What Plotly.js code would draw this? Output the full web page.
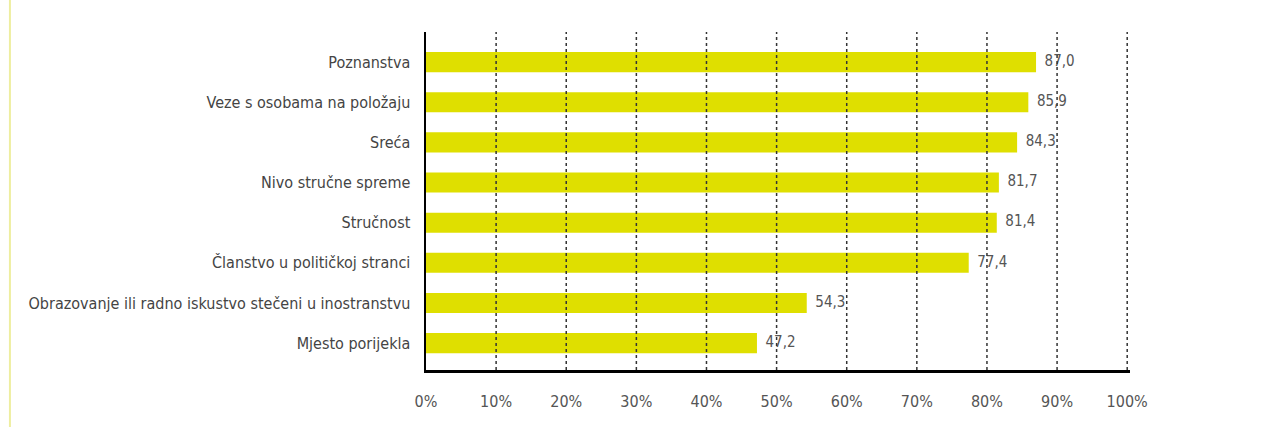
<!DOCTYPE html>
<html>
<head>
<meta charset="utf-8">
<script src="https://cdn.plot.ly/plotly-3.0.1.min.js"></script>
<style>html,body{margin:0;padding:0;background:#fff;}#chart{width:1265px;height:427px;}</style>
</head>
<body>
<div id="chart"></div>
<script>
const categories = [
  "Poznanstva",
  "Veze s osobama na položaju",
  "Sreća",
  "Nivo stručne spreme",
  "Stručnost",
  "Članstvo u političkoj stranci",
  "Obrazovanje ili radno iskustvo stečeni u inostranstvu",
  "Mjesto porijekla"
];
const values = [87.0, 85.9, 84.3, 81.7, 81.4, 77.4, 54.3, 47.2];
const valueLabels = ["87,0", "85,9", "84,3", "81,7", "81,4", "77,4", "54,3", "47,2"];
const tickValues = [0, 10, 20, 30, 40, 50, 60, 70, 80, 90, 100];
const tickLabels = ["0%", "10%", "20%", "30%", "40%", "50%", "60%", "70%", "80%", "90%", "100%"];

const font = "DejaVu Sans Condensed, Liberation Sans Narrow, sans-serif";

const bars = {
  type: "bar",
  orientation: "h",
  y: categories,
  x: values,
  marker: {color: "#dfdf00", line: {width: 0}},
  width: 0.5,
  hoverinfo: "skip"
};
const labels = {
  type: "scatter",
  mode: "text",
  y: categories,
  x: values,
  text: valueLabels.map(t => "  " + t),
  textposition: "middle right",
  textfont: {family: font, size: 15, color: "#555"},
  hoverinfo: "skip",
  cliponaxis: false
};

const gridShapes = tickValues.filter(v => v > 0).map(v => ({
  type: "line", xref: "x", yref: "paper", x0: v, x1: v, y0: 0, y1: 1.0,
  line: {color: "#333", width: 1.5, dash: "dot"}, layer: "above"
}));
gridShapes.push({
  type: "line", xref: "paper", yref: "paper", x0: -0.591, x1: -0.591, y0: -0.17, y1: 1.1,
  line: {color: "#eeeea0", width: 2}, layer: "above"
});

const layout = {
  width: 1265, height: 427,
  margin: {l: 426, r: 135, t: 32, b: 57},
  paper_bgcolor: "#fff", plot_bgcolor: "#fff",
  showlegend: false,
  xaxis: {
    range: [0, 100.4],
    tickvals: tickValues, ticktext: tickLabels,
    showgrid: false, zeroline: false,
    showline: true, linecolor: "#000", linewidth: 3,
    ticks: "", ticklabelstandoff: 15,
    tickfont: {family: font, size: 16, color: "#555"},
    fixedrange: true
  },
  yaxis: {
    type: "category",
    range: [7.67, -0.75],
    showgrid: false, zeroline: false,
    showline: true, linecolor: "#000", linewidth: 2.5,
    ticks: "", ticklabelstandoff: 10,
    tickfont: {family: font, size: 16, color: "#444"},
    fixedrange: true
  },
  shapes: gridShapes
};

Plotly.newPlot("chart", [bars, labels], layout, {staticPlot: true, displayModeBar: false});
</script>
</body>
</html>
